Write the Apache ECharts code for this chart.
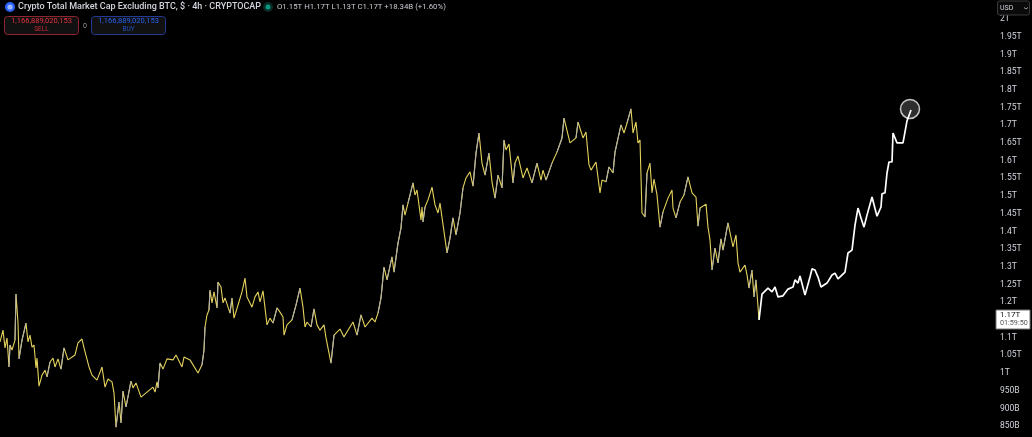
<!DOCTYPE html>
<html><head><meta charset="utf-8">
<style>html,body{margin:0;padding:0;background:#000;overflow:hidden}#c{width:1032px;height:437px}</style>
<script src="https://cdn.jsdelivr.net/npm/echarts@6/dist/echarts.min.js"></script></head>
<body><div id="c"></div>
<script>
// History (thin line): bar position and market cap in billions USD
const barsHist = [0,3,5,7,9,10,12,15,16,18,19,22,26,28,30,32,34,36,37,39,42,45,47,50,53,55,58,61,64,68,75,78,82,84,86,89,92,97,102,105,108,112,114,116,119,121,123,126,131,133,136,141,147,153,155,157,158,160,163,167,173,176,182,184,190,198,202,204,205,207,209,210,212,214,217,218,221,223,225,230,232,234,238,242,245,247,252,255,258,260,263,267,270,273,277,280,283,284,287,292,296,300,303,305,307,311,314,317,320,324,326,331,334,340,344,348,353,357,361,365,372,375,378,381,384,387,392,394,398,401,403,405,408,413,415,417,421,422,423,425,428,432,435,438,440,447,450,453,456,460,463,466,470,473,476,479,482,485,489,492,495,498,502,504,506,509,513,515,518,523,527,532,537,541,543,546,552,557,562,564,570,576,578,583,586,589,591,596,600,602,606,609,613,615,621,624,627,631,633,636,638,640,642,645,647,650,652,654,657,660,663,668,672,673,676,680,684,688,692,696,698,700,706,708,710,712,715,718,721,723,728,730,733,736,738,740,745,747,749,752,754,756,759];
const capHist = [1088,1121,1071,1099,1017,1079,1065,1093,1223,1141,1040,1093,1141,1088,1107,1073,1079,1014,1042,963,994,1008,989,1031,1042,1017,1040,1011,1071,1037,1051,1085,1096,1071,1071,1017,994,980,1017,960,983,975,944,847,918,859,949,904,977,958,972,932,946,960,946,975,958,1028,1011,1040,1037,1051,1017,1045,1037,1000,1023,1065,1130,1164,1178,1234,1198,1229,1184,1257,1243,1198,1212,1169,1212,1155,1192,1229,1268,1215,1186,1215,1229,1201,1232,1136,1155,1141,1184,1172,1158,1107,1136,1150,1192,1240,1186,1130,1144,1130,1181,1136,1121,1136,1099,1028,1107,1124,1102,1121,1144,1107,1164,1130,1155,1144,1169,1212,1299,1263,1328,1285,1367,1410,1475,1446,1480,1537,1503,1517,1432,1469,1427,1469,1489,1525,1475,1452,1480,1339,1381,1438,1390,1452,1523,1551,1568,1528,1621,1678,1593,1559,1621,1540,1494,1559,1523,1658,1630,1647,1537,1593,1613,1551,1579,1537,1593,1545,1573,1545,1593,1624,1664,1720,1650,1664,1709,1664,1681,1588,1573,1596,1509,1545,1540,1582,1565,1624,1701,1678,1706,1746,1678,1709,1650,1658,1452,1441,1565,1593,1509,1548,1503,1412,1455,1494,1517,1466,1438,1483,1503,1554,1509,1497,1415,1466,1477,1412,1376,1291,1353,1311,1379,1347,1424,1424,1356,1390,1311,1285,1305,1277,1240,1291,1215,1263,1150];
// Recent stretch (thick white line)
const barsRecent = [759,760,762,768,772,775,778,783,788,793,795,798,800,805,810,812,815,818,821,827,832,835,838,845,848,852,855,858,861,864,867,872,874,877,881,882,885,887,889,892,893,897,903,905,907,909,911];
const capRecent = [1150,1155,1223,1240,1229,1243,1215,1218,1237,1243,1263,1254,1274,1220,1271,1294,1291,1271,1243,1254,1277,1282,1266,1285,1339,1347,1418,1466,1438,1412,1446,1497,1497,1443,1469,1506,1509,1565,1596,1596,1678,1650,1650,1681,1712,1715,1743];
// Highlighted last point
const markerBar = [910];
const markerCap = [1746];
// Tick labels hidden in the reference (off canvas or covered by the price tag)
const hiddenTicks = [800,1150,2050];
const titleText = 'Crypto Total Market Cap Excluding BTC, $ · 4h · CRYPTOCAP';
const ohlcText = 'O1.15T H1.17T L1.13T C1.17T +18.34B (+1.60%)';
const sellBuyPrice = '1,166,889,020,153';

const zip = (a,b)=>a.map((x,i)=>[x,b[i]]);
const rises = [];
for (let i=1;i<barsHist.length;i++){
  if (capHist[i]-capHist[i-1]>=40) rises.push([barsHist[i-1],capHist[i-1]],[barsHist[i],capHist[i]],[barsHist[i],null]);
}
const FONT='Roboto, "Liberation Sans", sans-serif';
const t=(x,y,text,fs,fill,extra={})=>({type:'text',x,y,silent:true,z:100,style:Object.assign({text,fontSize:fs,fill,fontFamily:FONT,textVerticalAlign:'middle'},extra)});
const chart=echarts.init(document.getElementById('c'),null,{renderer:'canvas'});
chart.setOption({
  animation:false,backgroundColor:'#000',
  grid:{left:0,width:996,top:1.3,height:442.5,outerBoundsMode:'none',containLabel:false},
  xAxis:{type:'value',min:0,max:996,show:false},
  yAxis:{type:'value',position:'right',min:800,max:2050,interval:50,
    axisLine:{show:false},axisTick:{show:false},splitLine:{show:false},
    axisLabel:{color:'#d1d4dc',fontSize:8.5,fontFamily:FONT,margin:4,align:'left',padding:[3,0,0,0],
      formatter:v=>hiddenTicks.includes(v)?'':(v>=1000?(v/1000)+'T':v+'B')}},
  series:[
    {type:'scatter',data:zip(markerBar,markerCap),symbol:'circle',symbolSize:19,z:1,silent:true,
      itemStyle:{color:'#3a3a3a',borderColor:'#f2f2f2',borderWidth:1.5}},
    {type:'line',data:zip(barsHist,capHist),showSymbol:false,z:2,lineStyle:{color:'#e4d25c',width:1.1}},
    {type:'line',data:rises,showSymbol:false,connectNulls:false,z:3,lineStyle:{color:'#b0afa8',width:1.1}},
    {type:'line',data:zip(barsRecent,capRecent),showSymbol:false,z:4,lineStyle:{color:'#ffffff',width:1.7}}
  ],
  graphic:[
    {type:'circle',shape:{cx:10,cy:7,r:5},style:{fill:'#2962ff'},z:100,silent:true},
    {type:'circle',shape:{cx:10,cy:7,r:2.6},style:{fill:'#9db8ff'},z:101,silent:true},
    t(18,7,titleText,9,'#d1d4dc',{fontWeight:500}),
    {type:'circle',shape:{cx:268,cy:7,r:5},style:{fill:'#0b2a26'},z:100,silent:true},
    {type:'circle',shape:{cx:268,cy:7,r:2.5},style:{fill:'#089981'},z:101,silent:true},
    t(277,7,ohlcText,7.8,'#c8cbd3'),
    {type:'rect',shape:{x:4.5,y:16.5,width:74,height:18,r:3},style:{fill:'#111',stroke:'#8f2530',lineWidth:1},z:100,silent:true},
    t(41.5,21.5,sellBuyPrice,7.5,'#e53240',{textAlign:'center'}),
    t(41.5,29.5,'SELL',6.5,'#c82b38',{textAlign:'center'}),
    t(85,26,'0',7,'#9598a1',{textAlign:'center'}),
    {type:'rect',shape:{x:91.5,y:16.5,width:74,height:18,r:3},style:{fill:'#111',stroke:'#243a94',lineWidth:1},z:100,silent:true},
    t(128.5,21.5,sellBuyPrice,7.5,'#2a62f0',{textAlign:'center'}),
    t(128.5,29.5,'BUY',6.5,'#2350c0',{textAlign:'center'}),
    {type:'rect',shape:{x:997.5,y:1,width:32,height:14,r:2},style:{fill:'#0a0a0a',stroke:'#3a3a3a',lineWidth:1},z:100,silent:true},
    t(1000,8,'USD',7,'#d1d4dc'),
    {type:'polyline',shape:{points:[[1024,7.5],[1026,9],[1028,7.5]]},style:{stroke:'#a0a0a0',lineWidth:1,fill:null},z:100,silent:true},
    {type:'rect',shape:{x:996,y:310,width:34,height:19},style:{fill:'#ffffff',stroke:'#777',lineWidth:1},z:100,silent:true},
    t(1000,315,'1.17T',8,'#111'),
    t(1000,323.5,'01:59:50',7.2,'#555')
  ]
});
</script></body></html>
